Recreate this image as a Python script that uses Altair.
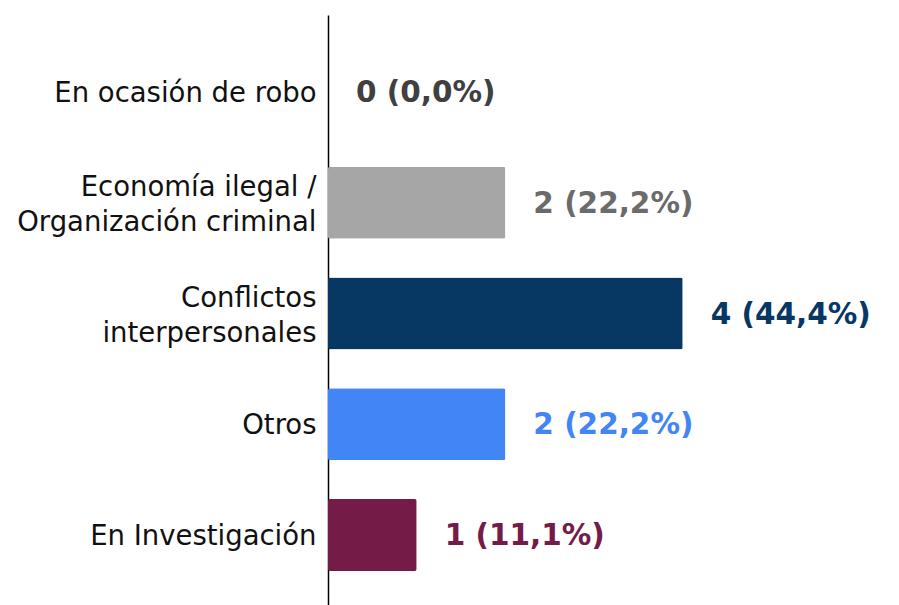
import altair as alt
import pandas as pd

categorias = [
    "En ocasión de robo",
    "Economía ilegal /\nOrganización criminal",
    "Conflictos\ninterpersonales",
    "Otros",
    "En Investigación",
]
valores = [0, 2, 4, 2, 1]
porcentajes = ["0,0%", "22,2%", "44,4%", "22,2%", "11,1%"]
colores_barra = ["#404040", "#A6A6A6", "#073763", "#4285F4", "#741B47"]
colores_texto = ["#404040", "#6B6B6B", "#073763", "#4285F4", "#741B47"]

df = pd.DataFrame({
    "categoria": categorias,
    "valor": valores,
    "etiqueta": [f"{v} ({p})" for v, p in zip(valores, porcentajes)],
    "color_texto": colores_texto,
})

FONT = "DejaVu Sans"

y_enc = alt.Y(
    "categoria:N",
    sort=categorias,
    scale=alt.Scale(paddingInner=0.35, paddingOuter=0.37),
    axis=alt.Axis(
        title=None,
        ticks=False,
        grid=False,
        domain=True,
        domainColor="#000000",
        domainWidth=1.5,
        labelFont=FONT,
        labelFontSize=27.5,
        labelColor="#111111",
        labelPadding=12,
        labelLimit=400,
        labelLineHeight=35,
        labelExpr="split(datum.label, '\\n')",
        labelOffset={
            "condition": {"test": "indexof(datum.value, '\\n') >= 0", "value": -15},
            "value": 2,
        },
    ),
)

x_enc = alt.X("valor:Q", scale=alt.Scale(domain=[0, 6]), axis=None)

bars = alt.Chart(df).mark_bar(cornerRadius=2).encode(
    x=x_enc,
    y=y_enc,
    color=alt.Color(
        "categoria:N",
        scale=alt.Scale(domain=categorias, range=colores_barra),
        legend=None,
    ),
)

texts = alt.Chart(df).mark_text(
    align="left", baseline="middle", dx=28, dy=1,
    font=FONT, fontSize=29.5, fontWeight="bold",
).encode(
    x=x_enc,
    y=y_enc,
    text="etiqueta:N",
    color=alt.Color("color_texto:N", scale=None, legend=None),
)

chart = (bars + texts).properties(
    width=532,
    height=597,
    padding={"top": 7, "left": 8, "right": 0, "bottom": 0},
).configure_view(stroke=None)

chart.save("out.html", embed_options={"renderer": "svg", "actions": False})
